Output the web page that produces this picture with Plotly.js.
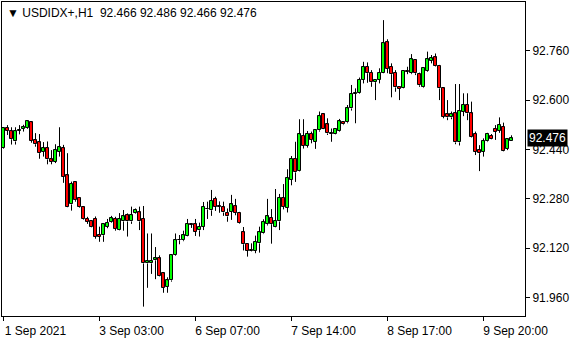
<!DOCTYPE html>
<html>
<head>
<meta charset="utf-8">
<script src="https://cdn.plot.ly/plotly-3.0.1.min.js"></script>
<style>
html,body{margin:0;padding:0;background:#fff;}
#chart{width:580px;height:340px;}
</style>
</head>
<body>
<div id="chart"></div>
<script>
// Hourly bars of USDIDX+ (H1)
const openP = [
92.444,92.509,92.499,92.466,92.501,92.507,92.510,92.528,92.470,92.463,
92.433,92.444,92.408,92.401,92.433,92.444,92.356,92.262,92.334,92.283,
92.253,92.215,92.208,92.215,92.163,92.162,92.190,92.206,92.215,92.178,
92.207,92.227,92.207,92.233,92.236,92.215,92.071,92.071,92.081,92.087,
92.039,91.996,92.016,92.097,92.146,92.146,92.159,92.200,92.198,92.178,
92.189,92.246,92.243,92.280,92.256,92.253,92.234,92.239,92.256,92.234,
92.172,92.134,92.112,92.112,92.136,92.168,92.198,92.218,92.190,92.207,
92.283,92.251,92.342,92.409,92.371,92.484,92.452,92.490,92.465,92.502,
92.554,92.521,92.492,92.490,92.501,92.529,92.528,92.573,92.620,92.622,
92.665,92.708,92.689,92.658,92.665,92.689,92.787,92.708,92.689,92.641,
92.638,92.693,92.687,92.730,92.684,92.641,92.695,92.728,92.738,92.711,
92.638,92.554,92.544,92.557,92.463,92.563,92.584,92.557,92.490,92.438,
92.433,92.466,92.484,92.508,92.501,92.514,92.443,92.466];
const highP = [
92.511,92.519,92.512,92.512,92.519,92.520,92.533,92.532,92.493,92.490,
92.464,92.466,92.438,92.457,92.512,92.455,92.428,92.336,92.336,92.285,
92.257,92.222,92.209,92.223,92.190,92.201,92.215,92.225,92.222,92.234,
92.244,92.233,92.255,92.249,92.255,92.257,92.168,92.168,92.124,92.097,
92.042,92.026,92.098,92.168,92.163,92.177,92.215,92.201,92.215,92.203,
92.270,92.271,92.309,92.287,92.272,92.271,92.249,92.293,92.280,92.238,
92.189,92.136,92.136,92.161,92.190,92.214,92.280,92.247,92.312,92.296,
92.328,92.376,92.419,92.465,92.538,92.538,92.500,92.498,92.503,92.563,
92.555,92.541,92.508,92.508,92.539,92.531,92.584,92.649,92.638,92.673,
92.724,92.722,92.697,92.665,92.703,92.859,92.797,92.719,92.697,92.641,
92.694,92.708,92.749,92.733,92.689,92.703,92.757,92.746,92.751,92.714,
92.640,92.600,92.563,92.652,92.652,92.622,92.622,92.595,92.498,92.454,
92.476,92.494,92.490,92.519,92.544,92.527,92.475,92.486];
const lowP = [
92.442,92.487,92.456,92.456,92.489,92.498,92.507,92.462,92.449,92.410,
92.417,92.392,92.392,92.396,92.417,92.332,92.253,92.242,92.271,92.251,
92.212,92.199,92.188,92.151,92.141,92.141,92.185,92.203,92.177,92.177,
92.177,92.158,92.199,92.231,92.179,91.931,91.992,92.037,92.020,92.029,
91.976,91.976,92.012,92.095,92.133,92.143,92.158,92.186,92.160,92.158,
92.179,92.215,92.225,92.241,92.235,92.225,92.206,92.212,92.227,92.199,
92.113,92.093,92.110,92.104,92.106,92.166,92.194,92.135,92.188,92.179,
92.246,92.236,92.324,92.335,92.369,92.443,92.446,92.460,92.442,92.498,
92.506,92.487,92.465,92.489,92.498,92.519,92.525,92.566,92.525,92.620,
92.654,92.656,92.643,92.600,92.654,92.687,92.687,92.609,92.627,92.600,
92.637,92.684,92.684,92.681,92.643,92.639,92.692,92.719,92.709,92.600,
92.541,92.535,92.538,92.457,92.453,92.548,92.535,92.479,92.422,92.370,
92.417,92.464,92.473,92.471,92.494,92.434,92.438,92.466];
const closeP = [
92.509,92.501,92.473,92.499,92.503,92.512,92.531,92.469,92.457,92.428,
92.444,92.408,92.401,92.438,92.447,92.352,92.255,92.328,92.276,92.253,
92.214,92.206,92.190,92.158,92.158,92.198,92.202,92.217,92.184,92.215,
92.223,92.207,92.227,92.244,92.207,92.071,92.078,92.078,92.087,92.031,
91.992,92.016,92.097,92.146,92.148,92.162,92.198,92.197,92.174,92.189,
92.254,92.247,92.273,92.255,92.255,92.236,92.223,92.262,92.235,92.201,
92.133,92.112,92.114,92.142,92.172,92.205,92.223,92.198,92.208,92.283,
92.255,92.347,92.409,92.366,92.489,92.452,92.490,92.471,92.502,92.548,
92.507,92.492,92.490,92.507,92.531,92.521,92.573,92.619,92.623,92.665,
92.708,92.687,92.658,92.665,92.689,92.784,92.701,92.684,92.641,92.637,
92.694,92.692,92.732,92.687,92.648,92.703,92.732,92.735,92.711,92.638,
92.546,92.544,92.554,92.463,92.565,92.584,92.557,92.482,92.433,92.428,
92.467,92.490,92.475,92.498,92.519,92.436,92.473,92.476];
const barIndex = openP.map((_, i) => i);
const tickIdx = [0, 24, 48, 72, 96, 120];
const tickLabels = ["1 Sep 2021", "3 Sep 03:00", "6 Sep 07:00", "7 Sep 14:00", "8 Sep 17:00", "9 Sep 20:00"];
const priceTicks = [91.96, 92.12, 92.28, 92.44, 92.60, 92.76];
const symbol = "USDIDX+,H1";
const lastBar = {o: 92.466, h: 92.486, l: 92.466, c: 92.476};

const FONT = "Liberation Sans, Arial, sans-serif";
const BULL = "#00ff00", BEAR = "#ff0000";

// candle bodies (derived from open/close)
const bodyBase = openP.map((o, i) => Math.min(o, closeP[i]));
const bodySize = openP.map((o, i) => Math.abs(closeP[i] - o));
const bodyColor = openP.map((o, i) => closeP[i] >= o ? BULL : BEAR);
// wicks (upper and lower segments, derived from high/low and body)
const wickX = [], wickY = [];
barIndex.forEach(i => {
  const top = Math.max(openP[i], closeP[i]);
  const bot = Math.min(openP[i], closeP[i]);
  wickX.push(i, i, null, i, i, null);
  wickY.push(highP[i], top, null, bot, lowP[i], null);
});

const wicks = {
  type: "scatter", mode: "lines", x: wickX, y: wickY,
  line: {color: "#000000", width: 1}, connectgaps: false,
  hoverinfo: "skip", showlegend: false
};
const bodies = {
  type: "bar", x: barIndex, y: bodySize, base: bodyBase,
  width: 0.75, offset: -0.5,
  marker: {color: bodyColor, line: {color: "#000000", width: 1}},
  hoverinfo: "skip", showlegend: false
};
const layout = {
  width: 580, height: 340,
  margin: {l: 2, r: 55, t: 2, b: 24},
  paper_bgcolor: "#ffffff", plot_bgcolor: "#ffffff",
  showlegend: false,
  bargap: 0, bargroupgap: 0, barmode: "overlay",
  font: {family: FONT, size: 12, color: "#000000"},
  xaxis: {
    type: "linear", range: [-0.375, 130.375],
    showgrid: false, zeroline: false,
    showline: true, mirror: true, linecolor: "#000000", linewidth: 1,
    tickmode: "array", tickvals: tickIdx, ticktext: tickLabels,
    ticks: "outside", ticklen: 4, tickcolor: "#000000",
    ticklabelshift: 32, ticklabelstandoff: 0,
    tickfont: {family: FONT, size: 12, color: "#000000"}
  },
  yaxis: {
    side: "right", range: [91.9007, 92.9177],
    showgrid: false, zeroline: false,
    showline: true, mirror: true, linecolor: "#000000", linewidth: 1,
    tickmode: "array", tickvals: priceTicks,
    tickformat: ".3f",
    ticks: "outside", ticklen: 4, tickcolor: "#000000",
    tickfont: {family: FONT, size: 12, color: "#000000"}
  },
  annotations: [
    {
      xref: "paper", yref: "paper", x: 0, y: 1, xanchor: "left", yanchor: "top",
      xshift: 3, yshift: -2, showarrow: false,
      text: "▼ " + symbol + "  " + [lastBar.o, lastBar.h, lastBar.l, lastBar.c].map(v => v.toFixed(3)).join(" "),
      font: {family: FONT, size: 12, color: "#000000"}
    },
    {
      xref: "paper", yref: "y", x: 1, y: lastBar.c, xanchor: "left", yanchor: "middle",
      xshift: 2, showarrow: false, text: lastBar.c.toFixed(3),
      bgcolor: "#000000", borderpad: 1,
      font: {family: FONT, size: 12, color: "#ffffff"}
    }
  ]
};
Plotly.newPlot("chart", [bodies, wicks], layout, {displayModeBar: false});
</script>
</body>
</html>
